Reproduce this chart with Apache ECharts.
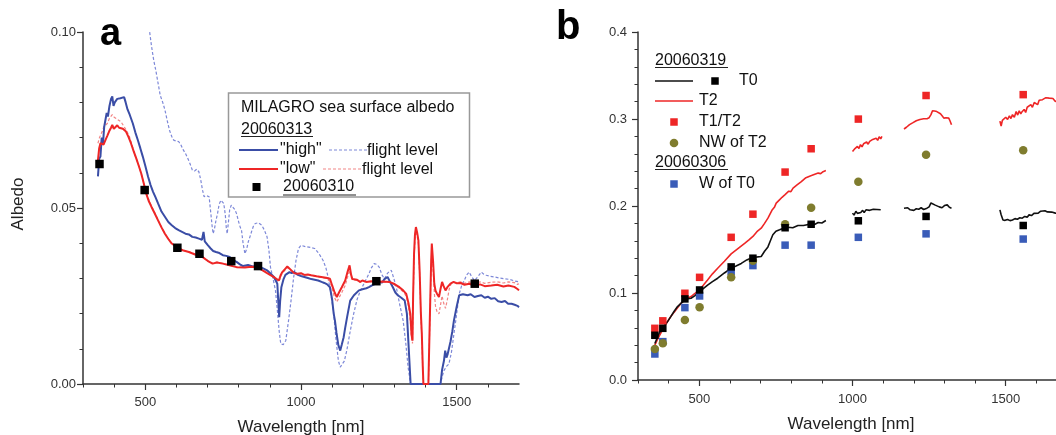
<!DOCTYPE html>
<html>
<head>
<meta charset="utf-8">
<script src="https://cdn.jsdelivr.net/npm/echarts@6/dist/echarts.min.js"></script>
<style>html,body{margin:0;padding:0;background:#fff}#c{width:1056px;height:435px}</style>
</head>
<body>
<div id="c"></div>
<script>
// ---------- Panel a data: wavelength [nm], albedo ----------
var highSurf = [[348,0.059],[352,0.064],[356,0.0646],[360,0.070],[364,0.068],[368,0.073],[372,0.075],[376,0.077],[380,0.076],[385,0.079],[390,0.081],[394,0.0817],[398,0.079],[402,0.080],[405,0.0795],[410,0.081],[416,0.0805],[420,0.0812],[426,0.0808],[432,0.0815],[437,0.080],[443,0.078],[450,0.0765],[460,0.074],[468,0.0715],[476,0.0693],[484,0.067],[492,0.0646],[500,0.062],[509,0.0589],[517,0.0565],[525,0.0546],[533,0.053],[541,0.0513],[552,0.049],[563,0.0475],[574,0.046],[585,0.0451],[596,0.0443],[607,0.0437],[618,0.0432],[629,0.0427],[640,0.0425],[651,0.0418],[662,0.0416],[672,0.0413],[682,0.041],[687,0.0432],[691,0.0405],[700,0.0395],[710,0.0385],[718,0.0378],[727,0.0375],[738,0.0372],[749,0.0366],[760,0.0364],[771,0.0361],[782,0.0352],[793,0.0347],[804,0.034],[814,0.0335],[830,0.0338],[845,0.0334],[858,0.0335],[870,0.0332],[880,0.0328],[891,0.0323],[902,0.0314],[913,0.0304],[920,0.0292],[924,0.0285],[927,0.0235],[930,0.019],[933,0.0235],[937,0.0275],[944,0.0298],[950,0.031],[956,0.0313],[963,0.0318],[970,0.0315],[978,0.0318],[990,0.031],[1000,0.0307],[1011,0.0304],[1022,0.0301],[1033,0.0298],[1044,0.0296],[1055,0.0294],[1066,0.029],[1075,0.0287],[1084,0.0283],[1093,0.0275],[1100,0.024],[1105,0.020],[1109,0.018],[1114,0.0145],[1120,0.011],[1126,0.0095],[1131,0.0112],[1137,0.0133],[1142,0.016],[1148,0.019],[1158,0.0237],[1170,0.0252],[1186,0.0266],[1200,0.027],[1210,0.0272],[1218,0.0275],[1228,0.028],[1240,0.0285],[1251,0.029],[1260,0.0288],[1268,0.0298],[1278,0.0304],[1286,0.029],[1295,0.0275],[1303,0.026],[1311,0.0252],[1322,0.0245],[1333,0.0237],[1340,0.020],[1346,0.010],[1352,0.0],[1448,0.0],[1453,0.004],[1459,0.0066],[1463,0.0095],[1467,0.0075],[1471,0.0085],[1475,0.0085],[1480,0.012],[1486,0.015],[1491,0.018],[1500,0.022],[1508,0.0252],[1520,0.0255],[1535,0.0252],[1545,0.0255],[1557,0.0247],[1568,0.025],[1579,0.0252],[1590,0.0245],[1600,0.0248],[1611,0.0242],[1622,0.0244],[1633,0.0235],[1644,0.0233],[1655,0.0236],[1665,0.0228],[1676,0.0228],[1686,0.0225],[1695,0.0222],[1700,0.0218]];

var lowSurf = [[348,0.0636],[352,0.067],[356,0.0684],[362,0.0688],[366,0.068],[372,0.0693],[378,0.0705],[384,0.0718],[390,0.0728],[394,0.0736],[399,0.0725],[405,0.0727],[410,0.0735],[416,0.0728],[421,0.0731],[428,0.0725],[438,0.0717],[446,0.0702],[454,0.0684],[462,0.0663],[471,0.0641],[479,0.062],[487,0.0598],[495,0.057],[503,0.0541],[511,0.052],[520,0.0503],[530,0.0485],[541,0.0465],[552,0.0445],[563,0.0427],[574,0.0412],[585,0.0399],[596,0.0392],[607,0.0385],[620,0.038],[640,0.0375],[660,0.0368],[683,0.0361],[700,0.035],[716,0.0342],[730,0.0345],[749,0.0342],[770,0.0337],[793,0.0332],[820,0.0331],[840,0.0333],[858,0.0332],[870,0.0326],[886,0.0318],[902,0.0309],[916,0.0302],[929,0.0294],[935,0.031],[940,0.0318],[950,0.0328],[956,0.0334],[962,0.0332],[970,0.0322],[978,0.0315],[989,0.0313],[1000,0.0315],[1011,0.031],[1022,0.0311],[1033,0.0309],[1050,0.0306],[1065,0.0304],[1080,0.0302],[1093,0.0299],[1100,0.028],[1108,0.026],[1115,0.0247],[1122,0.026],[1131,0.0275],[1136,0.0278],[1142,0.0294],[1150,0.032],[1156,0.0337],[1161,0.031],[1165,0.0298],[1170,0.0294],[1180,0.0296],[1190,0.029],[1197,0.0294],[1210,0.029],[1225,0.0292],[1240,0.029],[1262,0.0291],[1284,0.029],[1300,0.0284],[1316,0.0275],[1328,0.0266],[1338,0.0256],[1345,0.023],[1351,0.0199],[1355,0.014],[1358,0.0123],[1360,0.025],[1363,0.037],[1366,0.0425],[1369,0.0446],[1373,0.043],[1377,0.0408],[1381,0.032],[1385,0.020],[1388,0.0142],[1391,0.005],[1393,0.0],[1409,0.0],[1412,0.012],[1415,0.0237],[1418,0.035],[1420,0.0399],[1424,0.035],[1428,0.0285],[1432,0.0265],[1437,0.0256],[1443,0.0247],[1448,0.027],[1453,0.029],[1458,0.0278],[1464,0.0266],[1470,0.0275],[1480,0.0285],[1490,0.029],[1500,0.0286],[1513,0.0287],[1525,0.0282],[1540,0.0285],[1557,0.028],[1575,0.0283],[1590,0.0278],[1611,0.028],[1630,0.0282],[1650,0.0277],[1666,0.028],[1685,0.0276],[1695,0.027],[1700,0.0266]];

var highFlight = [[505,0.107],[514,0.100],[520,0.096],[527,0.092],[534,0.089],[541,0.0855],[548,0.082],[556,0.080],[563,0.0779],[570,0.075],[578,0.072],[585,0.0703],[591,0.0693],[600,0.069],[607,0.0689],[614,0.068],[622,0.0665],[629,0.0655],[637,0.064],[644,0.0625],[651,0.0608],[658,0.0605],[665,0.061],[672,0.0603],[678,0.058],[684,0.055],[689,0.0532],[697,0.0535],[705,0.0532],[711,0.048],[715,0.0445],[718,0.0427],[722,0.044],[727,0.0465],[732,0.0484],[737,0.051],[743,0.0522],[748,0.0518],[752,0.0513],[757,0.048],[760,0.0445],[763,0.0427],[767,0.046],[771,0.0495],[776,0.0508],[782,0.0505],[788,0.0495],[793,0.0484],[800,0.046],[805,0.0445],[809,0.0437],[814,0.040],[820,0.037],[826,0.0385],[831,0.0405],[836,0.0418],[842,0.0435],[847,0.0448],[853,0.0456],[863,0.0458],[874,0.0451],[882,0.0438],[891,0.0418],[897,0.038],[902,0.0332],[910,0.030],[918,0.0266],[924,0.021],[930,0.015],[935,0.0114],[943,0.0112],[951,0.0123],[960,0.018],[968,0.0237],[976,0.030],[984,0.0351],[992,0.0385],[1000,0.0394],[1015,0.039],[1030,0.0388],[1044,0.0385],[1058,0.037],[1071,0.0351],[1080,0.033],[1087,0.0304],[1095,0.026],[1104,0.0209],[1112,0.013],[1120,0.0066],[1126,0.0048],[1131,0.0043],[1139,0.0065],[1147,0.0095],[1158,0.015],[1169,0.0199],[1180,0.024],[1191,0.0266],[1205,0.029],[1218,0.0313],[1226,0.033],[1235,0.0342],[1243,0.034],[1251,0.0332],[1260,0.031],[1268,0.0299],[1278,0.0315],[1290,0.0323],[1298,0.030],[1306,0.0275],[1316,0.023],[1328,0.018],[1336,0.012],[1344,0.0047],[1352,0.0],[1448,0.0],[1453,0.002],[1459,0.0038],[1467,0.005],[1475,0.0057],[1483,0.009],[1491,0.0142],[1500,0.020],[1508,0.0256],[1516,0.028],[1524,0.0294],[1532,0.031],[1540,0.0318],[1548,0.0305],[1557,0.0294],[1568,0.0305],[1579,0.0318],[1587,0.0312],[1595,0.0309],[1608,0.0306],[1622,0.0304],[1638,0.0301],[1655,0.0299],[1670,0.0297],[1685,0.0293],[1700,0.029]];

var lowFlight = [[348,0.0684],[353,0.070],[358,0.0705],[363,0.072],[367,0.0731],[372,0.0735],[378,0.074],[385,0.0755],[390,0.076],[394,0.0765],[400,0.0758],[405,0.076],[410,0.0752],[416,0.075],[422,0.0745],[427,0.0738],[432,0.0731],[440,0.072],[449,0.0703],[457,0.068],[465,0.0655],[476,0.0628],[487,0.0598],[495,0.0572],[503,0.0546],[512,0.0522],[520,0.0505],[530,0.0487],[541,0.0466],[552,0.0446],[563,0.0428],[574,0.0413],[585,0.04],[596,0.0392],[607,0.0386],[620,0.038],[640,0.0376],[660,0.0369],[683,0.0362],[700,0.0351],[716,0.0343],[730,0.0346],[749,0.0343],[770,0.0338],[793,0.0333],[820,0.0332],[840,0.0334],[858,0.0333],[870,0.0327],[886,0.0319],[902,0.031],[916,0.03],[929,0.029],[935,0.0305],[940,0.0315],[950,0.0325],[956,0.0331],[962,0.033],[970,0.032],[978,0.0314],[989,0.0312],[1000,0.0313],[1011,0.0309],[1022,0.031],[1033,0.0308],[1050,0.0305],[1065,0.0303],[1080,0.03],[1093,0.0292],[1100,0.027],[1108,0.0245],[1115,0.0233],[1122,0.0245],[1131,0.026],[1136,0.0265],[1142,0.028],[1150,0.0305],[1156,0.0322],[1161,0.0305],[1165,0.0296],[1170,0.0292],[1180,0.0294],[1190,0.0289],[1197,0.0292],[1210,0.0289],[1225,0.0291],[1240,0.0289],[1262,0.029],[1284,0.0289],[1300,0.0282],[1316,0.0272],[1328,0.0262],[1338,0.025],[1345,0.022],[1351,0.018],[1355,0.013],[1358,0.0115],[1360,0.023],[1363,0.035],[1366,0.041],[1369,0.0435],[1373,0.042],[1377,0.0398],[1381,0.031],[1385,0.019],[1388,0.013],[1391,0.004],[1393,0.0],[1409,0.0],[1412,0.011],[1415,0.022],[1418,0.033],[1420,0.038],[1424,0.033],[1428,0.026],[1432,0.022],[1437,0.0205],[1443,0.0199],[1448,0.0225],[1453,0.025],[1458,0.023],[1464,0.0215],[1470,0.024],[1476,0.027],[1482,0.0285],[1490,0.0288],[1500,0.0289],[1513,0.029],[1525,0.0286],[1540,0.029],[1557,0.0286],[1575,0.029],[1590,0.0286],[1611,0.0289],[1630,0.029],[1650,0.0287],[1666,0.029],[1685,0.0288],[1695,0.0283],[1700,0.0285]];

var d0310Wl = [353,498,603,674,776,862,1242,1558];
var d0310Val = [0.0625,0.0551,0.0387,0.0370,0.0349,0.0335,0.0292,0.0285];

// ---------- Panel b data ----------
var t0Line = [
 [[355,0.042],[362,0.048],[369,0.0537],[375,0.057],[381,0.0594],[390,0.064],[398,0.068],[407,0.0729],[418,0.079],[429,0.0844],[440,0.088],[453,0.092],[463,0.0935],[473,0.094],[486,0.097],[500,0.1016],[513,0.105],[527,0.109],[543,0.113],[560,0.117],[582,0.123],[604,0.1285],[620,0.131],[637,0.134],[655,0.138],[675,0.141],[690,0.1415],[702,0.142],[713,0.148],[724,0.153],[732,0.16],[740,0.167],[750,0.171],[762,0.1726],[775,0.1745],[790,0.1756],[805,0.175],[822,0.1776],[840,0.1775],[852,0.1785],[864,0.1795],[876,0.1788],[888,0.181],[900,0.1805],[913,0.1833]],
 [[1000,0.1918],[1005,0.1895],[1011,0.194],[1016,0.1915],[1022,0.193],[1027,0.1925],[1033,0.195],[1038,0.1925],[1044,0.1956],[1050,0.1935],[1056,0.195],[1062,0.1938],[1068,0.1963],[1074,0.1945],[1080,0.196],[1086,0.1942],[1092,0.1956]],
 [[1168,0.1975],[1174,0.1955],[1180,0.198],[1188,0.1956],[1194,0.197],[1200,0.195],[1208,0.1968],[1216,0.1963],[1224,0.198],[1232,0.196],[1243,0.1975],[1250,0.199],[1256,0.2035],[1262,0.2025],[1270,0.201],[1276,0.202],[1283,0.199],[1292,0.198],[1300,0.2005],[1309,0.2013],[1316,0.1985],[1323,0.1975]],
 [[1481,0.1956],[1485,0.19],[1491,0.184],[1498,0.1835],[1506,0.1845],[1514,0.1832],[1522,0.184],[1530,0.1855],[1538,0.1848],[1546,0.1865],[1554,0.186],[1562,0.188],[1570,0.1872],[1576,0.1898],[1584,0.189],[1592,0.1915],[1598,0.1925],[1606,0.1918],[1614,0.194],[1620,0.1935],[1628,0.1945],[1636,0.1932],[1642,0.1937],[1650,0.193],[1662,0.1918],[1675,0.1912],[1690,0.1905],[1700,0.19]]
];
var t2Line = [
 [[355,0.04],[364,0.047],[374,0.0537],[385,0.061],[396,0.067],[407,0.0729],[418,0.078],[429,0.083],[440,0.088],[451,0.0915],[462,0.094],[473,0.0959],[486,0.0995],[500,0.1035],[513,0.109],[527,0.115],[543,0.122],[560,0.1285],[582,0.1365],[604,0.145],[626,0.151],[648,0.157],[662,0.161],[675,0.165],[688,0.1705],[702,0.1745],[713,0.18],[724,0.186],[737,0.195],[745,0.1985],[751,0.2033],[760,0.2065],[770,0.21],[779,0.2128],[792,0.217],[799,0.2165],[806,0.2205],[820,0.2245],[833,0.228],[848,0.2325],[858,0.234],[866,0.235],[877,0.2365],[888,0.2378],[896,0.2372],[904,0.2395],[908,0.2385],[913,0.2408]],
 [[1000,0.2627],[1004,0.2605],[1008,0.266],[1012,0.2645],[1016,0.2685],[1021,0.266],[1026,0.2705],[1031,0.268],[1036,0.2715],[1041,0.2695],[1046,0.2735],[1051,0.271],[1056,0.2742],[1061,0.272],[1066,0.2765],[1071,0.2745],[1077,0.278],[1082,0.2755],[1087,0.2795],[1092,0.2772],[1096,0.28]],
 [[1168,0.2885],[1172,0.2865],[1176,0.2905],[1181,0.2885],[1186,0.2935],[1191,0.2915],[1196,0.2955],[1202,0.2935],[1208,0.298],[1214,0.2965],[1220,0.2995],[1226,0.2975],[1232,0.3003],[1238,0.2985],[1243,0.3003],[1250,0.3015],[1256,0.305],[1261,0.3095],[1268,0.3092],[1275,0.3085],[1281,0.3087],[1287,0.306],[1293,0.3035],[1298,0.301],[1305,0.3015],[1310,0.3005],[1314,0.301],[1318,0.298],[1323,0.2934]],
 [[1481,0.2975],[1485,0.292],[1489,0.2985],[1494,0.2965],[1500,0.302],[1506,0.2995],[1512,0.3035],[1517,0.3005],[1522,0.305],[1528,0.302],[1534,0.3085],[1539,0.3045],[1544,0.3095],[1549,0.306],[1554,0.3087],[1560,0.311],[1565,0.3075],[1570,0.3135],[1576,0.3126],[1582,0.3165],[1587,0.3135],[1593,0.319],[1598,0.3183],[1604,0.3165],[1609,0.3215],[1615,0.3195],[1620,0.3222],[1626,0.3205],[1631,0.3245],[1637,0.3225],[1642,0.324],[1648,0.3228],[1654,0.3235],[1662,0.3202],[1670,0.321],[1680,0.3195],[1690,0.32],[1700,0.3185]]
];
var bWl   = [355,381,453,501,604,675,780,865,1019,1240,1557];
var t0Pts = [0.0514,0.0594,0.0932,0.1035,0.130,0.140,0.175,0.179,0.183,0.188,0.1776];
var t1t2Pts = [0.0594,0.068,0.0997,0.118,0.164,0.1906,0.239,0.2658,0.2999,0.327,0.328];
var nwT2Pts = [0.0357,0.0422,0.069,0.0836,0.118,0.137,0.179,0.198,0.228,0.259,0.264];
var wT0Pts  = [0.0299,0.0441,0.0832,0.0966,0.1246,0.1315,0.155,0.155,0.164,0.168,0.162];

// tick labels
var xTickLabels = [500, 1000, 1500];

// ---------- build ----------
var FONT = 'Liberation Sans, Arial, Helvetica, sans-serif';
var AX = '#333';
function zip(xs, ys){ return xs.map(function(x,i){ return [x, ys[i]]; }); }

function xAxes(grid, margin, max){
  return [{
    gridIndex: grid, type: 'value', min: 300, max: max, interval: 100, position: 'bottom',
    axisLine: {show: true, onZero: false, lineStyle: {color: AX, width: 1.5}},
    axisTick: {show: true, length: 3.5, lineStyle: {color: AX, width: 1}},
    axisLabel: {margin: margin, fontSize: 13, fontFamily: FONT, color: '#333', showMaxLabel: false,
      formatter: function(v){ return xTickLabels.indexOf(Math.round(v)) >= 0 ? String(Math.round(v)) : ''; }},
    splitLine: {show: false}
  },{
    gridIndex: grid, type: 'value', min: 300, max: max, interval: 100, position: 'bottom',
    axisLine: {show: false, onZero: false},
    axisTick: {show: true, length: 6, customValues: xTickLabels, lineStyle: {color: AX, width: 1.2}},
    axisLabel: {show: false},
    splitLine: {show: false}
  }];
}
function yAxis(grid, max, interval, dec, margin){
  return {
    gridIndex: grid, type: 'value', min: 0, max: max, interval: interval,
    axisLine: {show: true, onZero: false, lineStyle: {color: AX, width: 1.5}},
    axisTick: {show: true, length: 6, lineStyle: {color: AX, width: 1.2}},
    minorTick: {show: true, splitNumber: 5, length: 3.5, lineStyle: {color: AX, width: 1}},
    axisLabel: {margin: margin, fontSize: 13, fontFamily: FONT, color: '#333',
      formatter: function(v){ return v.toFixed(dec); }},
    splitLine: {show: false}, minorSplitLine: {show: false}
  };
}
function line(data, xi, yi, color, width, dash, z){
  return {type: 'line', xAxisIndex: xi, yAxisIndex: yi, data: data, symbol: 'none',
    lineStyle: {color: color, width: width, type: dash || 'solid'}, z: z || 2, silent: true, clip: true};
}
function scatter(data, xi, yi, color, symbol, size, z){
  return {type: 'scatter', xAxisIndex: xi, yAxisIndex: yi, data: data, symbol: symbol,
    symbolSize: size, itemStyle: {color: color, opacity: 1}, z: z || 5, silent: true, clip: false};
}

var BLUE = '#3a4da6', BLUE_L = '#7d88d8', RED = '#ee2626', RED_L = '#f28585';
var OLIVE = '#7f7c2e', BLUE_SQ = '#3a5cb8';

var series = [
  line(highFlight, 0, 0, BLUE_L, 1.2, [3, 2], 2),
  line(lowFlight, 0, 0, RED_L, 1.2, [3, 2], 2),
  line(highSurf, 0, 0, BLUE, 2, 'solid', 3),
  line(lowSurf, 0, 0, RED, 2, 'solid', 4),
  scatter(zip(d0310Wl, d0310Val), 0, 0, '#000', 'rect', 8.5, 6)
];
t2Line.forEach(function(s){ series.push(line(s, 2, 1, RED, 1.6, 'solid', 3)); });
t0Line.forEach(function(s){ series.push(line(s, 2, 1, '#111', 1.6, 'solid', 3)); });
series.push(scatter(zip(bWl, wT0Pts), 2, 1, BLUE_SQ, 'rect', 7.5, 5));
series.push(scatter(zip(bWl, nwT2Pts), 2, 1, OLIVE, 'circle', 8.5, 6));
series.push(scatter(zip(bWl, t1t2Pts), 2, 1, RED, 'rect', 7.5, 6));
series.push(scatter(zip(bWl, t0Pts), 2, 1, '#000', 'rect', 7.5, 7));

function txt(x, y, s, size, opts){
  opts = opts || {};
  return {type: 'text', x: x, y: y, rotation: opts.rot || 0, z: 20, silent: true,
    style: {text: s, x: 0, y: 0, fill: opts.color || '#111', fontSize: size, fontFamily: FONT,
      fontWeight: opts.bold ? 'bold' : 'normal',
      align: opts.align || 'left', verticalAlign: opts.va || 'middle',
      textAlign: opts.align || 'left', textVerticalAlign: opts.va || 'middle'}};
}
function ln(x1, y1, x2, y2, color, w, dash){
  return {type: 'line', z: 20, silent: true, shape: {x1: x1, y1: y1, x2: x2, y2: y2},
    style: {stroke: color, lineWidth: w, lineDash: dash || null}};
}
function sq(cx, cy, s, color){
  return {type: 'rect', z: 20, silent: true, shape: {x: cx - s/2, y: cy - s/2, width: s, height: s}, style: {fill: color}};
}

var graphics = [
  txt(100, 35, 'a', 38, {bold: true, color: '#000'}),
  txt(556, 28, 'b', 40, {bold: true, color: '#000'}),
  txt(301, 427, 'Wavelength [nm]', 17, {align: 'center', color: '#222'}),
  txt(851, 424, 'Wavelength [nm]', 17, {align: 'center', color: '#222'}),
  txt(18, 204, 'Albedo', 17, {align: 'center', rot: Math.PI / 2, color: '#222'}),
  // legend a
  {type: 'rect', z: 19, silent: true, shape: {x: 228.5, y: 93, width: 241, height: 104},
    style: {fill: '#fff', stroke: '#999', lineWidth: 1.5}},
  txt(241, 107.5, 'MILAGRO sea surface albedo', 16),
  txt(241, 129.5, '20060313', 16),
  ln(241, 136.5, 313, 136.5, '#222', 1.2),
  ln(239, 150, 278, 150, BLUE, 2),
  txt(280, 150, '"high"', 16),
  ln(329, 150, 367, 150, BLUE_L, 1.2, [3, 2]),
  txt(367, 150.5, 'flight level', 16),
  ln(239, 169, 278, 169, RED, 2),
  txt(280, 169, '"low"', 16),
  ln(323, 169, 362, 169, RED_L, 1.2, [3, 2]),
  txt(362, 169.5, 'flight level', 16),
  sq(256.5, 187, 8, '#000'),
  txt(283, 187, '20060310', 16),
  ln(283, 195, 356, 195, '#222', 1.2),
  // legend b
  txt(655, 60.5, '20060319', 16),
  ln(655, 67.5, 728, 67.5, '#222', 1.2),
  ln(655, 81, 693, 81, '#111', 1.6),
  sq(715, 81, 7.5, '#000'),
  txt(739, 81, 'T0', 16),
  ln(655, 101, 693, 101, RED, 1.6),
  txt(699, 101, 'T2', 16),
  sq(674, 122, 7.5, RED),
  txt(699, 122, 'T1/T2', 16),
  {type: 'circle', z: 20, silent: true, shape: {cx: 674, cy: 143, r: 4.3}, style: {fill: OLIVE}},
  txt(699, 143, 'NW of T2', 16),
  txt(655, 163, '20060306', 16),
  ln(655, 169.5, 728, 169.5, '#222', 1.2),
  sq(674, 184, 7.5, BLUE_SQ),
  txt(699, 184, 'W of T0', 16)
];

var chart = echarts.init(document.getElementById('c'), null, {renderer: 'canvas'});
chart.setOption({
  animation: false,
  backgroundColor: '#fff',
  grid: [
    {left: 83, top: 32, width: 436, height: 352, containLabel: false},
    {left: 638, top: 32, width: 418, height: 348, containLabel: false}
  ],
  xAxis: xAxes(0, 12, 1700).concat(xAxes(1, 13, 1664)),
  yAxis: [yAxis(0, 0.1, 0.05, 2, 7), yAxis(1, 0.4, 0.1, 1, 11)],
  series: series,
  graphic: graphics
});
</script>
</body>
</html>
